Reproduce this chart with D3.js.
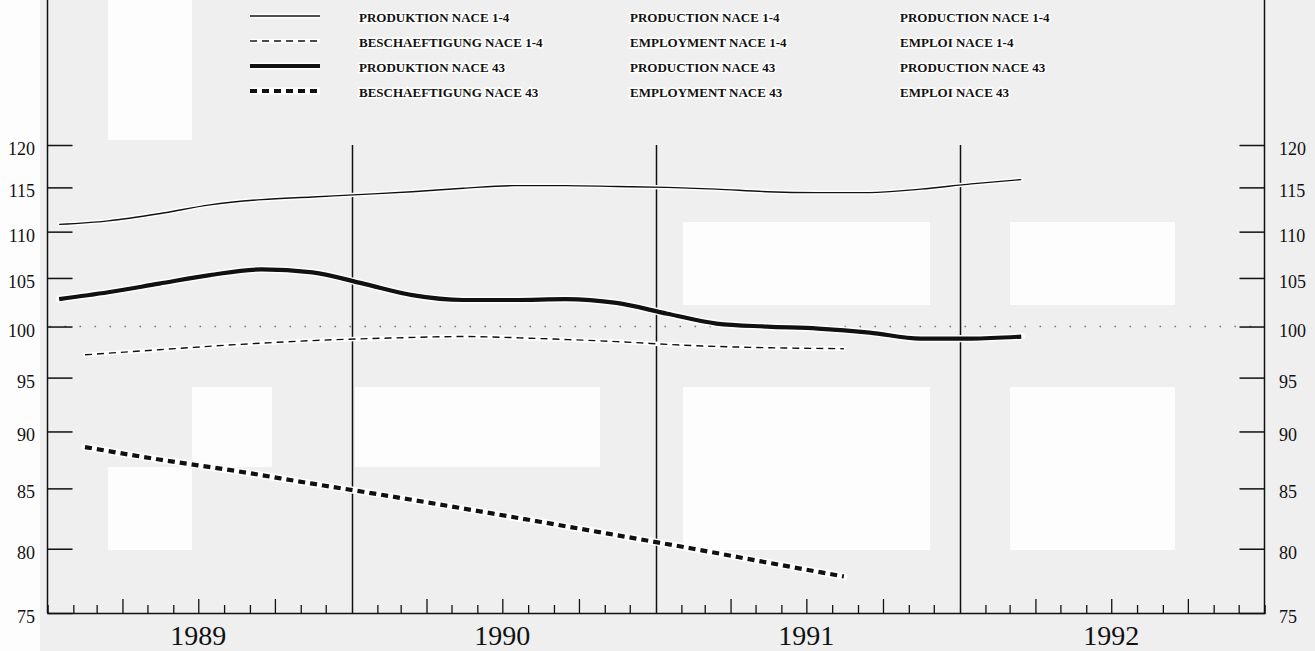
<!DOCTYPE html>
<html>
<head>
<meta charset="utf-8">
<script src="https://cdn.jsdelivr.net/npm/d3@7"></script>
<style>
  html, body { margin: 0; padding: 0; background: #efefef; }
  svg { display: block; }
  text { font-family: "Liberation Serif", "DejaVu Serif", serif; fill: #111; }
</style>
</head>
<body>
<svg id="chart" width="1315" height="651"></svg>
<script>
// ---- data ----
const years = ["1989", "1990", "1991", "1992"];
const yTicks = [75, 80, 85, 90, 95, 100, 105, 110, 115, 120];

const prodMonths = ["1989-01","1989-03","1989-05","1989-07","1989-09","1989-11",
                    "1990-01","1990-03","1990-05","1990-07","1990-09","1990-11",
                    "1991-01","1991-03","1991-05","1991-07","1991-09","1991-11",
                    "1992-01","1992-03"];
const prodNace14 = [110.8, 111.2, 112.0, 113.0, 113.6, 113.9,
                    114.2, 114.5, 114.9, 115.2, 115.2, 115.1,
                    115.0, 114.8, 114.5, 114.4, 114.4, 114.8,
                    115.4, 115.9];
const prodNace43 = [102.8, 103.5, 104.4, 105.3, 105.9, 105.6,
                    104.4, 103.2, 102.7, 102.7, 102.8, 102.4,
                    101.3, 100.3, 100.0, 99.8, 99.4, 98.8,
                    98.8, 99.0];

const emplMonths = ["1989-02","1989-05","1989-08","1989-11","1990-02","1990-05",
                    "1990-08","1990-11","1991-02","1991-05","1991-08"];
const emplNace14 = [97.2, 97.7, 98.2, 98.6, 98.85, 99.0, 98.8, 98.5, 98.1, 97.9, 97.8];
const emplNace43 = [88.6, 87.5, 86.5, 85.4, 84.35, 83.3, 82.2, 81.1, 80.0, 78.9, 77.8];

const legendDe = ["PRODUKTION NACE 1-4", "BESCHAEFTIGUNG NACE 1-4", "PRODUKTION NACE 43", "BESCHAEFTIGUNG NACE 43"];
const legendEn = ["PRODUCTION NACE 1-4", "EMPLOYMENT NACE 1-4", "PRODUCTION NACE 43", "EMPLOYMENT NACE 43"];
const legendFr = ["PRODUCTION NACE 1-4", "EMPLOI NACE 1-4", "PRODUCTION NACE 43", "EMPLOI NACE 43"];

// background scan blocks (decoration only)
const bgBlocks = [
  [108, 0, 84, 140], [683, 222, 247, 83], [1010, 222, 165, 83],
  [355, 387, 245, 80], [683, 387, 247, 163], [1010, 387, 165, 163],
  [108, 467, 84, 83], [192, 387, 80, 80], [0, 0, 40, 651]
];

// ---- layout ----
const svg = d3.select("#chart");
const pL = 47.5, pR = 1264.5, pT = 145, pB = 613;

const parse = d3.timeParse("%Y-%m");
const mid = s => { const d = parse(s); return new Date(d.getFullYear(), d.getMonth(), 15); };

const x = d3.scaleTime()
  .domain([new Date(1989, 0, 1), new Date(1993, 0, 1)])
  .range([pL, pR]);
const y = d3.scaleLog().domain([75, 120]).range([pB, pT]);

// background blocks
svg.append("g").selectAll("rect").data(bgBlocks).join("rect")
  .attr("x", d => d[0]).attr("y", d => d[1]).attr("width", d => d[2]).attr("height", d => d[3])
  .attr("fill", "#fdfdfd");

// 100 reference dotted line
svg.append("line")
  .attr("x1", pL + 2).attr("x2", pR)
  .attr("y1", y(100)).attr("y2", y(100))
  .attr("stroke", "#777").attr("stroke-width", 1.6)
  .attr("stroke-dasharray", "1.6,13.4");

// year dividers
const yearStarts = years.slice(1).map(v => new Date(+v, 0, 1));
svg.append("g").selectAll("line").data(yearStarts).join("line")
  .attr("x1", d => Math.round(x(d)) + 0.5).attr("x2", d => Math.round(x(d)) + 0.5)
  .attr("y1", pT).attr("y2", pB)
  .attr("stroke", "#111").attr("stroke-width", 1.5);

// left / right axes (full height frame lines)
[pL, pR].forEach(px => {
  svg.append("line").attr("x1", px).attr("x2", px).attr("y1", 0).attr("y2", pB)
    .attr("stroke", "#111").attr("stroke-width", 1.5);
});

// y axes via d3.axis
const axL = svg.append("g").attr("transform", `translate(${pL},0)`)
  .call(d3.axisRight(y).tickValues(yTicks).tickSize(25).tickFormat(""));
axL.select(".domain").remove();
axL.selectAll("line").attr("stroke", "#111").attr("stroke-width", 1.5);

const axR = svg.append("g").attr("transform", `translate(${pR},0)`)
  .call(d3.axisLeft(y).tickValues(yTicks).tickSize(25).tickFormat(""));
axR.select(".domain").remove();
axR.selectAll("line").attr("stroke", "#111").attr("stroke-width", 1.5);

// y labels
svg.append("g").selectAll("text").data(yTicks).join("text")
  .attr("x", 35).attr("y", d => y(d) + 10)
  .attr("text-anchor", "end").attr("font-size", 18)
  .text(d => d);
svg.append("g").selectAll("text").data(yTicks).join("text")
  .attr("x", 1279).attr("y", d => y(d) + 10)
  .attr("text-anchor", "start").attr("font-size", 18)
  .text(d => d);

// bottom axis with monthly ticks
const monthsAll = d3.timeMonth.range(new Date(1989, 1, 1), new Date(1993, 0, 1))
  .filter(d => d.getMonth() !== 0);
const axB = svg.append("g").attr("transform", `translate(0,${pB})`)
  .call(d3.axisTop(x).tickValues(monthsAll).tickSizeOuter(0).tickFormat("")
    .tickSize(8));
axB.select(".domain").attr("stroke", "#111").attr("stroke-width", 1.5);
axB.selectAll(".tick line")
  .attr("y2", d => d.getMonth() % 3 === 0 ? -14 : -8)
  .attr("stroke", "#111").attr("stroke-width", 1.3);

// year labels
svg.append("g").selectAll("text").data(years).join("text")
  .attr("x", d => x(new Date(+d, 6, 1)))
  .attr("y", 645)
  .attr("text-anchor", "middle").attr("font-size", 28)
  .text(d => d);

// ---- series ----
const line = d3.line().curve(d3.curveMonotoneX);
const series = [
  { months: prodMonths, values: prodNace14, width: 1.4, dash: null },
  { months: emplMonths, values: emplNace14, width: 1.4, dash: "7,5" },
  { months: prodMonths, values: prodNace43, width: 4.2, dash: null },
  { months: emplMonths, values: emplNace43, width: 4.2, dash: "7,5" }
];
const gLines = svg.append("g");
series.forEach(s => {
  const pts = s.months.map((m, i) => [x(mid(m)), y(s.values[i])]);
  gLines.append("path").attr("d", line(pts)).attr("fill", "none")
    .attr("stroke", "#fff").attr("stroke-width", s.width + 3)
    .attr("stroke-linecap", "round");
});
series.forEach(s => {
  const pts = s.months.map((m, i) => [x(mid(m)), y(s.values[i])]);
  gLines.append("path").attr("d", line(pts)).attr("fill", "none")
    .attr("stroke", "#111").attr("stroke-width", s.width)
    .attr("stroke-dasharray", s.dash);
});

// ---- legend ----
const legY = [16, 41, 66, 91];
const gLeg = svg.append("g");
series.forEach((s, i) => {
  gLeg.append("line").attr("x1", 250).attr("x2", 320).attr("y1", legY[i]).attr("y2", legY[i])
    .attr("stroke", "#fff").attr("stroke-width", s.width + 3);
  gLeg.append("line").attr("x1", 250).attr("x2", 320).attr("y1", legY[i]).attr("y2", legY[i])
    .attr("stroke", "#111").attr("stroke-width", s.width)
    .attr("stroke-dasharray", s.dash);
});
[[legendDe, 359], [legendEn, 630], [legendFr, 900]].forEach(([labels, lx]) => {
  gLeg.append("g").selectAll("text").data(labels).join("text")
    .attr("x", lx).attr("y", (d, i) => legY[i] + 6)
    .attr("font-size", 13).attr("font-weight", "bold")
    .attr("stroke", "#fff").attr("stroke-width", 3).attr("paint-order", "stroke")
    .text(d => d);
});
</script>
</body>
</html>
